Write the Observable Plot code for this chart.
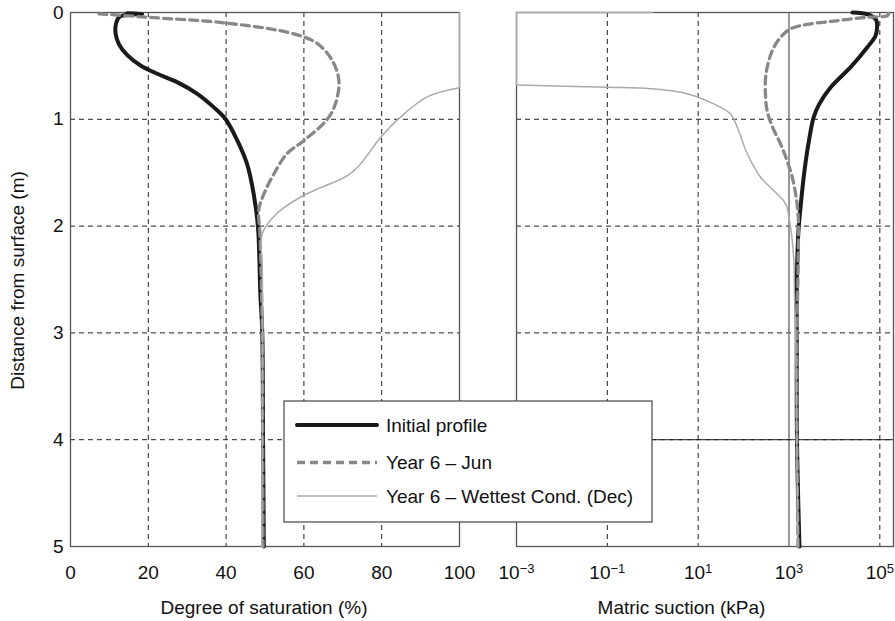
<!DOCTYPE html>
<html>
<head>
<meta charset="utf-8">
<script src="https://cdn.jsdelivr.net/npm/d3@7"></script>
<script src="https://cdn.jsdelivr.net/npm/@observablehq/plot@0.6"></script>
<style>
  body { margin: 0; background: #fff; }
  #wrap { position: relative; width: 895px; height: 621px; overflow: hidden; }
  #wrap svg { position: absolute; top: 0; overflow: visible !important; }
  #wrap svg text { font-family: "Liberation Sans", Arial, Helvetica, sans-serif; }
</style>
</head>
<body>
<div id="wrap"></div>
<script>
// ---------- data ----------
// Left panel: degree of saturation (%) vs depth (m)
const initialSatDepth = [0.007, 0.013, 0.037, 0.106, 0.2, 0.293, 0.4, 0.496, 0.574, 0.652, 0.761, 0.886, 0.995, 1.2, 1.42, 1.7, 2.01, 2.63, 3.0, 4.0, 5.0];
const initialSat      = [14.6, 18.4, 12.7, 11.7, 11.6, 12.4, 14.6, 18.0, 22.3, 27.4, 32.6, 36.8, 39.8, 42.9, 45.4, 47.1, 48.2, 48.8, 49.3, 49.5, 49.7];
const junSatDepth = [0.012, 0.044, 0.1, 0.2, 0.29, 0.45, 0.64, 0.855, 1.0, 1.2, 1.32, 1.51, 1.7, 1.85, 2.07, 3.0, 4.0, 5.0];
const junSat      = [7.3, 19.7, 40.3, 57.4, 63.4, 67.3, 69.0, 68.1, 66.0, 60.0, 55.7, 52.3, 49.7, 48.4, 48.7, 49.3, 49.4, 49.5];
const wetSatDepth = [0.0, 0.705, 0.79, 0.98, 1.17, 1.42, 1.53, 1.64, 1.73, 1.88, 2.07, 2.38, 3.0, 4.0, 5.0];
const wetSat      = [100, 100, 91.7, 84.8, 79.7, 74.5, 71.1, 64.3, 59.1, 53.1, 49.3, 49.3, 49.4, 49.3, 49.2];

// Right panel: matric suction (kPa) vs depth (m)
const initialSucDepth = [0.0, 0.02, 0.07, 0.14, 0.22, 0.33, 0.51, 0.70, 0.86, 0.98, 1.2, 1.51, 1.82, 2.07, 2.63, 3.0, 4.0, 5.0];
const initialSuc      = [25000, 56000, 83000, 87000, 80000, 52000, 23000, 8300, 4600, 3500, 2750, 2150, 1800, 1600, 1480, 1480, 1500, 1700];
const junSucDepth = [0.01, 0.03, 0.044, 0.08, 0.112, 0.153, 0.215, 0.325, 0.45, 0.61, 0.79, 0.92, 1.07, 1.23, 1.39, 1.54, 1.70, 1.89, 2.38, 3.0, 4.0, 5.0];
const junSuc      = [158000, 146000, 53000, 9800, 2500, 1080, 710, 465, 360, 305, 305, 330, 430, 650, 910, 1175, 1400, 1585, 1585, 1500, 1500, 1580];
const wetSucDepth = [0.0, 0.0, 0.68, 0.70, 0.714, 0.76, 0.855, 0.95, 1.07, 1.32, 1.54, 1.70, 1.79, 2.01, 2.32, 2.63, 3.0, 4.0, 5.0];
const wetSuc      = [1, 0.001, 0.001, 0.1, 0.9, 5.7, 22, 52, 72, 120, 235, 550, 840, 1080, 1280, 1320, 1400, 1480, 1580];

// ticks / labels
const satTicks = [0, 20, 40, 60, 80, 100];
const satGrid = [20, 40, 60, 80];
const sucTicks = [1e-3, 1e-1, 1e1, 1e3, 1e5];
const sucGrid = [1e-1, 1e1, 1e5];
const depthTicks = [0, 1, 2, 3, 4, 5];
const depthGrid = [1, 2, 3, 4];
const seriesNames = ["Initial profile", "Year 6 \u2013 Jun", "Year 6 \u2013 Wettest Cond. (Dec)"];
const xLabelLeft = "Degree of saturation (%)";
const xLabelRight = "Matric suction (kPa)";
const yLabel = "Distance from surface (m)";

const rows = (ds, vs) => ds.map((d, i) => ({d, v: vs[i]}));
const initSat = rows(initialSatDepth, initialSat);
const junS = rows(junSatDepth, junSat);
const wetS = rows(wetSatDepth, wetSat);
const initSuc = rows(initialSucDepth, initialSuc);
const junU = rows(junSucDepth, junSuc);
const wetU = rows(wetSucDepth, wetSuc);

const font = '"Liberation Sans", Arial, Helvetica, sans-serif';
const gridStyle = {stroke: "#222", strokeWidth: 1, strokeDasharray: "5,4"};
const sInit = {stroke: "#1a1a1a", strokeWidth: 4};
const sJun = {stroke: "#888", strokeWidth: 3.3, strokeDasharray: "8,5"};
const sWet = {stroke: "#aaa", strokeWidth: 1.5};
const svgStyle = {fontFamily: font, fontSize: "19px", background: "transparent", color: "#111", overflow: "visible"};

const wrap = document.getElementById("wrap");

const left = Plot.plot({
  width: 470, height: 621,
  marginLeft: 70, marginRight: 11, marginTop: 12, marginBottom: 75,
  style: svgStyle,
  x: {domain: [0, 100], ticks: satTicks, tickFormat: d => String(d), tickSize: 0, tickPadding: 19, label: null},
  y: {domain: [0, 5], reverse: true, ticks: depthTicks, tickFormat: d => String(d), tickSize: 0, tickPadding: 7, label: null},
  marks: [
    Plot.ruleX(satGrid, gridStyle),
    Plot.ruleY(depthGrid, gridStyle),
    Plot.frame({stroke: "#555", strokeWidth: 1.3}),
    Plot.line(initSat, {x: "v", y: "d", curve: "catmull-rom", ...sInit}),
    Plot.line(junS, {x: "v", y: "d", curve: "catmull-rom", ...sJun}),
    Plot.line(wetS, {x: "v", y: "d", filter: (d, i) => i <= 1, curve: "linear", ...sWet}),
    Plot.line(wetS, {x: "v", y: "d", filter: (d, i) => i >= 1, curve: "catmull-rom", ...sWet}),
    Plot.text([xLabelLeft], {frameAnchor: "bottom", dy: 61, dx: -1, textAnchor: "middle", lineAnchor: "middle", fontSize: 19, fill: "#111"}),
    Plot.text([yLabel], {frameAnchor: "left", dx: -52.5, dy: 1, rotate: -90, textAnchor: "middle", lineAnchor: "middle", fontSize: 19, fill: "#111"})
  ]
});
left.style.left = "0px";
wrap.appendChild(left);

const right = Plot.plot({
  width: 425, height: 621,
  marginLeft: 46, marginRight: 2, marginTop: 12, marginBottom: 75,
  style: svgStyle,
  x: {type: "log", domain: [1e-3, 2e5], ticks: sucTicks,
      tickFormat: d => "10^" + Math.round(Math.log10(d)), tickSize: 0, tickPadding: 19, label: null},
  y: {domain: [0, 5], reverse: true, axis: null},
  marks: [
    Plot.ruleX(sucGrid, gridStyle),
    Plot.ruleY(depthGrid, gridStyle),
    Plot.ruleX([1e3], {stroke: "#777", strokeWidth: 1.5}),
    Plot.ruleY([4], {stroke: "#222", strokeWidth: 1}),
    Plot.frame({stroke: "#555", strokeWidth: 1.3}),
    Plot.line(initSuc, {x: "v", y: "d", curve: "catmull-rom", ...sInit}),
    Plot.line(junU, {x: "v", y: "d", curve: "catmull-rom", ...sJun}),
    Plot.line(wetU, {x: "v", y: "d", filter: (d, i) => i <= 2, curve: "linear", ...sWet}),
    Plot.line(wetU, {x: "v", y: "d", filter: (d, i) => i >= 2, curve: "catmull-rom", ...sWet}),
    Plot.text([xLabelRight], {frameAnchor: "bottom", dy: 61, dx: -23.5, textAnchor: "middle", lineAnchor: "middle", fontSize: 19, fill: "#111"})
  ]
});
right.style.left = "470px";
wrap.appendChild(right);

// superscript exponents in the log-axis tick labels
right.querySelectorAll("text").forEach(t => {
  const m = /^10\^(-?\d+)$/.exec(t.textContent);
  if (!m) return;
  const exp = m[1].replace("-", "\u2212");
  t.textContent = "";
  const base = document.createElementNS("http://www.w3.org/2000/svg", "tspan");
  base.textContent = "10";
  const sup = document.createElementNS("http://www.w3.org/2000/svg", "tspan");
  sup.textContent = exp;
  sup.setAttribute("dy", "-6");
  sup.style.fontSize = "13px";
  t.appendChild(base);
  t.appendChild(sup);
});

// legend (overlays both panels)
const NS = "http://www.w3.org/2000/svg";
const leg = document.createElementNS(NS, "svg");
leg.setAttribute("width", 370);
leg.setAttribute("height", 123);
leg.style.left = "283px";
leg.style.top = "399.5px";
const box = document.createElementNS(NS, "rect");
box.setAttribute("x", 1); box.setAttribute("y", 1);
box.setAttribute("width", 368); box.setAttribute("height", 121);
box.setAttribute("fill", "#fff"); box.setAttribute("stroke", "#444"); box.setAttribute("stroke-width", 1.2);
leg.appendChild(box);
const legStyles = [sInit, sJun, sWet];
const legY = [25, 62.5, 96];
seriesNames.forEach((name, i) => {
  const s = legStyles[i];
  const ln = document.createElementNS(NS, "line");
  ln.setAttribute("x1", 14); ln.setAttribute("x2", 94);
  ln.setAttribute("y1", legY[i]); ln.setAttribute("y2", legY[i]);
  ln.setAttribute("stroke", s.stroke);
  ln.setAttribute("stroke-width", s.strokeWidth);
  if (i === 0) ln.setAttribute("stroke-linecap", "round");
  if (s.strokeDasharray) ln.setAttribute("stroke-dasharray", s.strokeDasharray);
  leg.appendChild(ln);
  const tx = document.createElementNS(NS, "text");
  tx.setAttribute("x", 103);
  tx.setAttribute("y", legY[i]);
  tx.setAttribute("dy", "0.35em");
  tx.setAttribute("fill", "#111");
  tx.style.fontSize = "19px";
  tx.textContent = name;
  leg.appendChild(tx);
});
wrap.appendChild(leg);
</script>
</body>
</html>
